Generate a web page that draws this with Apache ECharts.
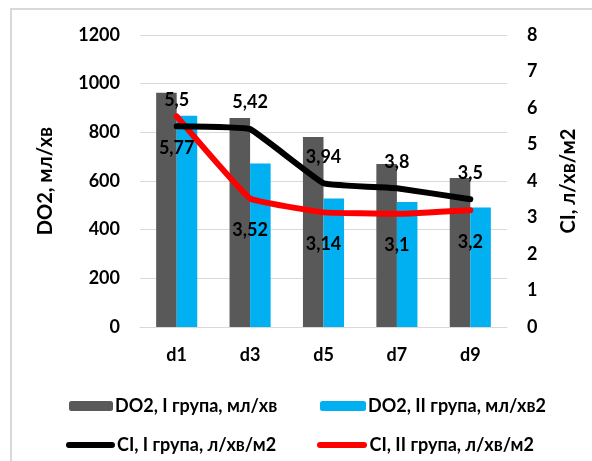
<!DOCTYPE html>
<html>
<head>
<meta charset="utf-8">
<script src="https://cdn.jsdelivr.net/npm/echarts@6/dist/echarts.min.js"></script>
<style>
  html, body { margin: 0; padding: 0; background: #fff; }
  #chart { width: 592px; height: 461px; }
</style>
</head>
<body>
<div id="chart"></div>
<script>
// Days of observation
const days = ['d1', 'd3', 'd5', 'd7', 'd9'];
// Oxygen delivery, ml/min
const do2GroupI = [963, 859, 781, 670, 612];
const do2GroupII = [868, 672, 528, 514, 491];
// Cardiac index, l/min/m2
const ciGroupI = [5.5, 5.42, 3.94, 3.8, 3.5];
const ciGroupII = [5.77, 3.52, 3.14, 3.1, 3.2];
// Series names
const names = [
  'DO2, I група, мл/хв',
  'DO2, II група, мл/хв2',
  'CI, I група, л/хв/м2',
  'CI, II група, л/хв/м2'
];

const FONT = 'Lato, "Noto Sans", sans-serif';
const txt = (size) => ({ fontFamily: FONT, fontWeight: 'bold', fontSize: size, color: '#000' });
const comma = (p) => String(p.value).replace('.', ',');
const plain = (v) => String(v);
const capsule = 'path://M3,0 H47 A3,3 0 0 1 47,6 H3 A3,3 0 0 1 3,0 Z';

const chart = echarts.init(document.getElementById('chart'), null, { renderer: 'canvas' });

const legendBase = {
  orient: 'horizontal',
  itemGap: 0,
  textStyle: Object.assign(txt(18), { padding: [0, 0, 0, -3] }),
  selectedMode: false
};

chart.setOption({
  animation: false,
  backgroundColor: '#fff',
  graphic: [{
    type: 'rect',
    shape: { x: 11, y: 9, width: 600, height: 470 },
    style: { fill: 'none', stroke: '#d9d9d9', lineWidth: 2 },
    silent: true
  }],
  grid: { left: 140, right: 85, top: 35, bottom: 134 },
  legend: [
    Object.assign({}, legendBase, { left: 64, top: 392, itemWidth: 44, itemHeight: 10, data: [names[0]] }),
    Object.assign({}, legendBase, { left: 315, top: 392, itemWidth: 46, itemHeight: 10, data: [names[1]] }),
    Object.assign({}, legendBase, { left: 61, top: 431, itemWidth: 49, itemHeight: 6,
      data: [{ name: names[2], icon: capsule }] }),
    Object.assign({}, legendBase, { left: 312, top: 431, itemWidth: 51, itemHeight: 6,
      data: [{ name: names[3], icon: capsule }] })
  ],
  xAxis: {
    type: 'category',
    data: days,
    axisLine: { lineStyle: { color: '#d9d9d9', width: 1 } },
    axisTick: { show: false },
    axisLabel: Object.assign(txt(18), { margin: 19 })
  },
  yAxis: [{
    type: 'value',
    min: 0, max: 1200, interval: 200,
    name: 'DO2, мл/хв',
    nameLocation: 'middle',
    nameRotate: 90,
    nameGap: 84,
    nameTextStyle: txt(20),
    axisLine: { show: false },
    axisTick: { show: false },
    axisLabel: Object.assign(txt(18), { margin: 20, formatter: plain }),
    splitLine: { lineStyle: { color: '#d9d9d9', width: 1 } }
  }, {
    type: 'value',
    min: 0, max: 8, interval: 1,
    name: 'CI, л/хв/м2',
    nameLocation: 'middle',
    nameRotate: 90,
    nameGap: 52,
    nameTextStyle: txt(20),
    axisLine: { show: false },
    axisTick: { show: false },
    axisLabel: Object.assign(txt(18), { margin: 20, formatter: plain }),
    splitLine: { show: false }
  }],
  series: [{
    name: names[0],
    type: 'bar',
    data: do2GroupI,
    barGap: '0%',
    barCategoryGap: '44%',
    itemStyle: { color: '#595959' }
  }, {
    name: names[1],
    type: 'bar',
    data: do2GroupII,
    itemStyle: { color: '#00b0f0' }
  }, {
    name: names[2],
    type: 'line',
    yAxisIndex: 1,
    data: ciGroupI,
    smooth: 0.08,
    symbol: 'circle',
    symbolSize: 1,
    showSymbol: true,
    lineStyle: { color: '#000', width: 6, cap: 'round', join: 'round' },
    itemStyle: { color: '#000' },
    label: Object.assign({ show: true, position: 'top', distance: 17, formatter: comma }, txt(18)),
    z: 5
  }, {
    name: names[3],
    type: 'line',
    yAxisIndex: 1,
    data: ciGroupII,
    smooth: 0.08,
    symbol: 'circle',
    symbolSize: 1,
    showSymbol: true,
    lineStyle: { color: '#ff0000', width: 6, cap: 'round', join: 'round' },
    itemStyle: { color: '#ff0000' },
    label: Object.assign({ show: true, position: 'bottom', distance: 22, formatter: comma }, txt(18)),
    z: 4
  }]
});
</script>
</body>
</html>
